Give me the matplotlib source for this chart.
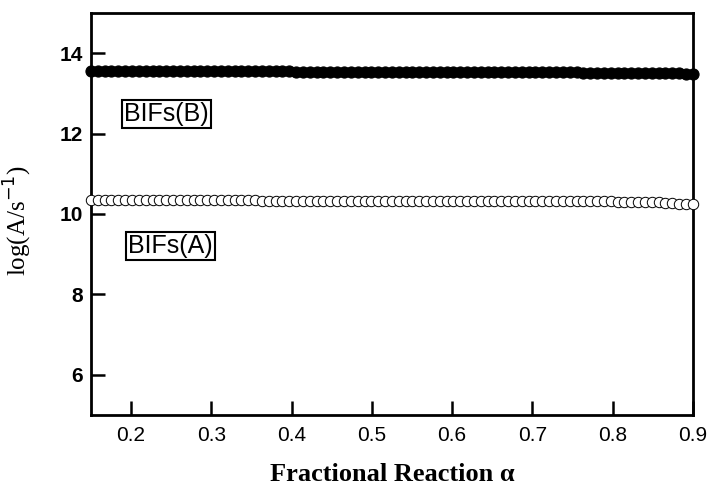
import numpy as np
import matplotlib
matplotlib.use("Agg")
import matplotlib.pyplot as plt

# fractional reaction grid (~89 samples between 0.15 and 0.9)
alpha = np.linspace(0.15, 0.90, 89)

# log(A/s^-1)
bifs_b = ([13.555] * 15 + [13.55] * 15 + [13.545] * 12 + [13.54] * 12 +
          [13.535] * 10 + [13.53] * 8 + [13.52] * 7 + [13.51] * 5 +
          [13.50] * 3 + [13.49] * 2)
bifs_a = ([10.34] * 25 + [10.335] * 20 + [10.33] * 15 + [10.325] * 10 +
          [10.32] * 7 + [10.31] * 4 + [10.30] * 3 + [10.28] * 2 +
          [10.26] * 2 + [10.25])

labels = ["BIFs(B)", "BIFs(A)"]
label_pos = [(0.244, 12.5), (0.249, 9.2)]

fig = plt.figure(figsize=(7.08, 4.88), dpi=100)
ax = fig.add_axes([0.1285, 0.150, 0.850, 0.823])

ax.plot(alpha, bifs_b, 'o', color='black', markersize=8,
        markerfacecolor='black', markeredgewidth=0.8, clip_on=False,
        zorder=3)
ax.plot(alpha, bifs_a, 'o', color='black', markersize=7.5,
        markerfacecolor='white', markeredgewidth=0.7, clip_on=False,
        zorder=3)

for txt, (x, y) in zip(labels, label_pos):
    ax.text(x, y, txt, ha='center', va='center', fontsize=18,
            family='Liberation Sans',
            bbox=dict(boxstyle='square,pad=0.08', facecolor='white',
                      edgecolor='black', linewidth=1.5))

ax.set_xlim(0.15, 0.9)
ax.set_ylim(5, 15)
ax.set_xticks([0.2, 0.3, 0.4, 0.5, 0.6, 0.7, 0.8, 0.9])
ax.set_yticks([6, 8, 10, 12, 14])
ax.tick_params(direction='in', length=10, width=1.8, labelsize=15)
ax.tick_params(axis='x', pad=8)
ax.tick_params(axis='y', pad=6)
for lab in ax.get_xticklabels() + ax.get_yticklabels():
    lab.set_family('Liberation Sans')
for lab in ax.get_yticklabels():
    lab.set_fontweight('bold')
for s in ax.spines.values():
    s.set_linewidth(2)

ax.set_xlabel("Fractional Reaction α", fontsize=19,
              family='Liberation Serif', fontweight='bold', labelpad=13)
ax.set_ylabel(r"log(A/s$^{-1}$)", fontsize=18, family='Liberation Serif')
ax.yaxis.set_label_coords(-0.094, 0.485)

fig.savefig("out.png", dpi=100)
